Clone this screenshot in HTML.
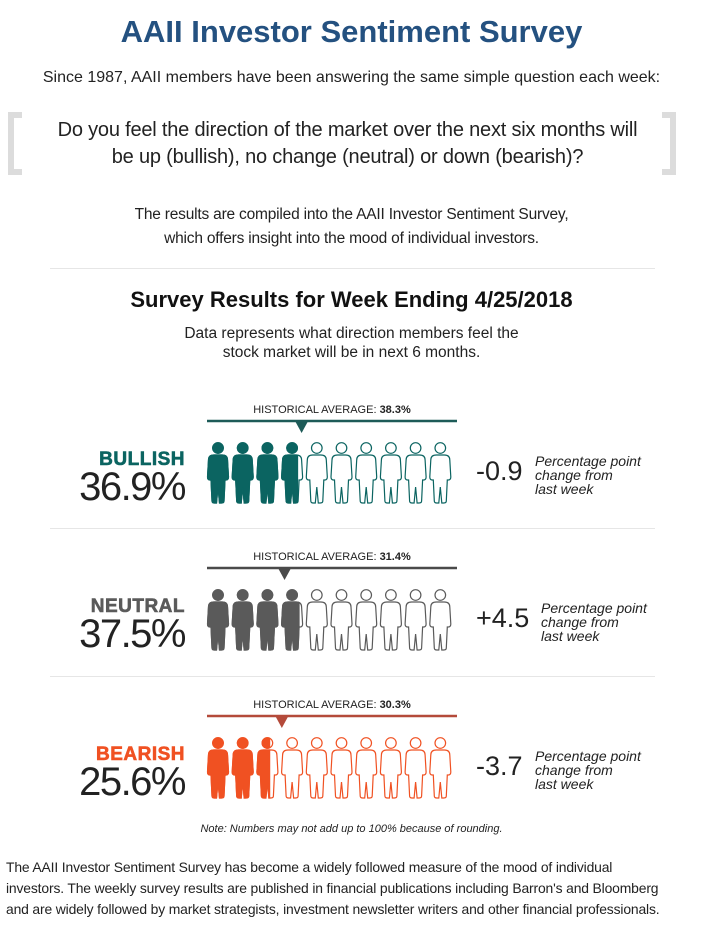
<!DOCTYPE html>
<html><head><meta charset="utf-8">
<style>
body{margin:0;width:703px;height:926px;background:#fff;font-family:"Liberation Sans",Arial,sans-serif;position:relative;overflow:hidden;color:#222}
.a{position:absolute}
.c{left:0;width:703px;text-align:center}
.lab{position:absolute;right:518px;font-weight:bold;font-size:19px;letter-spacing:0.5px;-webkit-text-stroke:0.6px}
.pct{position:absolute;right:518px;font-size:40px;color:#222;letter-spacing:-1.5px}
.chg{position:absolute;left:476px;font-size:27px;color:#222}
.note{position:absolute;font-style:italic;font-size:14px;line-height:14px;color:#222}
.hist{position:absolute;left:207px;width:250px;text-align:center;font-size:11px;color:#222}
.sep{position:absolute;left:50px;width:605px;height:1px;background:#e6e6e6}
</style></head><body>
<div class="a c" style="top:14px;font-size:31px;font-weight:bold;color:#245180">AAII Investor Sentiment Survey</div>
<div class="a c" style="top:69px;font-size:16px">Since 1987, AAII members have been answering the same simple question each week:</div>
<div class="a" style="left:8px;top:112px;height:63px;border:6px solid #dcdcdc;border-right:none;box-sizing:border-box;width:14px"></div>
<div class="a" style="left:662px;top:112px;height:63px;border:6px solid #dcdcdc;border-left:none;box-sizing:border-box;width:14px"></div>
<div class="a c" style="top:117px;left:-4px;font-size:20px;line-height:27px;letter-spacing:-0.2px">Do you feel the direction of the market over the next six months will<br>be up (bullish), no change (neutral) or down (bearish)?</div>
<div class="a c" style="top:203px;font-size:15.5px;line-height:24px;letter-spacing:-0.2px">The results are compiled into the AAII Investor Sentiment Survey,<br>which offers insight into the mood of individual investors.</div>
<div class="sep" style="top:268px"></div>
<div class="a c" style="top:287px;font-size:22px;font-weight:bold;color:#111">Survey Results for Week Ending 4/25/2018</div>
<div class="a c" style="top:324px;font-size:15.5px;line-height:19px">Data represents what direction members feel the<br>stock market will be in next 6 months.</div>
<div class="sep" style="top:528px"></div>
<div class="sep" style="top:676px"></div>
<div id="rows"></div>
<div class="a c" style="top:823px;font-size:11px;font-style:italic">Note: Numbers may not add up to 100% because of rounding.</div>
<div class="a" style="left:6px;top:857px;width:690px;font-size:13.9px;line-height:21px;letter-spacing:-0.15px">The AAII Investor Sentiment Survey has become a widely followed measure of the mood of individual<br>investors. The weekly survey results are published in financial publications including Barron's and Bloomberg<br>and are widely followed by market strategists, investment newsletter writers and other financial professionals.</div>
<script>
const categories=["BULLISH","NEUTRAL","BEARISH"];
const current=[36.9,37.5,25.6];
const historical=[38.3,31.4,30.3];
const changes=["-0.9","+4.5","-3.7"];
const colors=["#0b6461","#5a5a5a","#f05122"];
const lineColors=["#1d5b58","#4a4a4a","#b44a3a"];
const rowTop=[421,568,716];
const X0=207,W=247,N=10,PITCH=24.7;
const xScale=v=>X0+v/100*W;
const root=document.getElementById('rows');
const fig="M-4,12 L4,12 Q9.5,12 9.5,17 L10.5,34 Q10.5,37 8,37 L7,37 L6,58 Q6,60 3.5,60 L1.5,60 L0,44 L-1.5,60 L-3.5,60 Q-6,60 -6,58 L-7,37 L-8,37 Q-10.5,37 -10.5,34 L-9.5,17 Q-9.5,12 -4,12 Z";
categories.forEach((cat,i)=>{
  const t=rowTop[i];
  const h=document.createElement('div');h.className='hist';h.style.top=(t-17)+'px';
  h.innerHTML='HISTORICAL AVERAGE: <b>'+historical[i].toFixed(1)+'%</b>';
  
  
  root.appendChild(h);
  const ns='http://www.w3.org/2000/svg';
  const svg=document.createElementNS(ns,'svg');
  svg.setAttribute('width','703');svg.setAttribute('height','100');
  svg.style.position='absolute';svg.style.left='0';svg.style.top=(t-3)+'px';
  
  
  const ln=document.createElementNS(ns,'line');
  ln.setAttribute('x1',X0);ln.setAttribute('x2',X0+250);ln.setAttribute('y1',3);ln.setAttribute('y2',3);
  ln.setAttribute('stroke',lineColors[i]);ln.setAttribute('stroke-width','2.5');
  
  
  svg.appendChild(ln);
  const hx=xScale(historical[i]);
  const tri=document.createElementNS(ns,'polygon');
  tri.setAttribute('points',(hx-6)+',4 '+(hx+6)+',4 '+hx+',15');
  tri.setAttribute('fill',lineColors[i]);
  
  
  svg.appendChild(tri);
  const defs=document.createElementNS(ns,'defs');
  const cp=document.createElementNS(ns,'clipPath');cp.setAttribute('id','cp'+i);
  const r=document.createElementNS(ns,'rect');
  r.setAttribute('x',X0);r.setAttribute('y',0);r.setAttribute('width',xScale(current[i])-X0);r.setAttribute('height',100);
  cp.appendChild(r);defs.appendChild(cp);svg.appendChild(defs);
  const out=document.createElementNS(ns,'g');
  const fill=document.createElementNS(ns,'g');fill.setAttribute('clip-path','url(#cp'+i+')');
  for(let k=0;k<N;k++){
    const cx=X0+11+k*PITCH;
    [[out,'#fff',colors[i]],[fill,colors[i],colors[i]]].forEach(([g,f,s])=>{
      const gg=document.createElementNS(ns,'g');
      gg.setAttribute('transform','translate('+cx+',25)');
      const c=document.createElementNS(ns,'circle');c.setAttribute('cx',0);c.setAttribute('cy',5);c.setAttribute('r',5.3);
      c.setAttribute('fill',f);c.setAttribute('stroke',s);c.setAttribute('stroke-width','1.2');
      const p=document.createElementNS(ns,'path');p.setAttribute('d',fig);p.setAttribute('fill',f);p.setAttribute('stroke',s);p.setAttribute('stroke-width','1.2');
      gg.appendChild(c);gg.appendChild(p);g.appendChild(gg);
    });
  }
  svg.appendChild(out);svg.appendChild(fill);
  root.appendChild(svg);
  const lab=document.createElement('div');lab.className='lab';lab.style.top=(t+28)+'px';lab.style.color=colors[i];lab.textContent=cat;
  
  
  root.appendChild(lab);
  const pc=document.createElement('div');pc.className='pct';pc.style.top=(t+44)+'px';pc.textContent=current[i].toFixed(1)+'%';
  
  
  root.appendChild(pc);
  const ch=document.createElement('div');ch.className='chg';ch.style.top=(t+35)+'px';ch.textContent=changes[i];
  
  
  root.appendChild(ch);
  const nt=document.createElement('div');nt.className='note';nt.style.top=(t+33)+'px';nt.style.left=(i==1?541:535)+'px';
  nt.innerHTML='Percentage point<br>change from<br>last week';
  
  
  root.appendChild(nt);
});
</script>
</body></html>
